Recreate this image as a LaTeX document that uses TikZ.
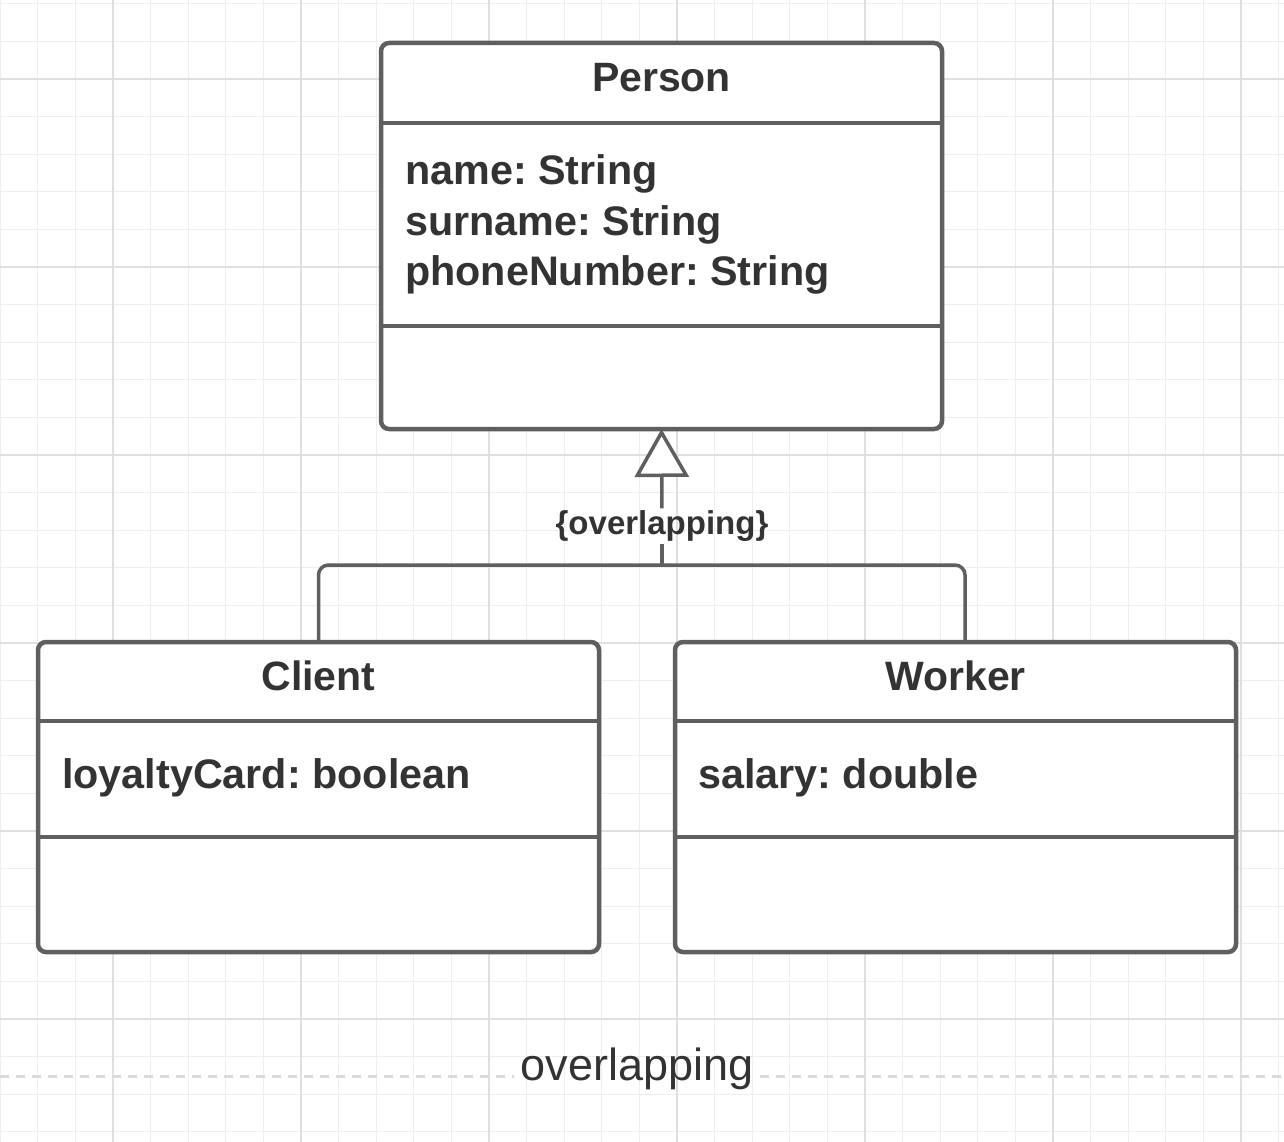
\documentclass[tikz,border=0pt]{standalone}
\usepackage{fontspec}
\setmainfont{Liberation Sans}
\usetikzlibrary{arrows.meta}
\definecolor{umlline}{HTML}{5F5F5F}
\definecolor{umltext}{HTML}{333333}
\definecolor{gridminor}{HTML}{EEEEEE}
\definecolor{gridmajor}{HTML}{E0E0E0}
\definecolor{dashgray}{HTML}{DADADA}
\frenchspacing

\begin{document}
\begin{tikzpicture}[x=1pt,y=-1pt,
  classbox/.style={draw=umlline,line width=4.5pt,rounded corners=8pt,fill=white,
    inner sep=0pt,outer sep=0pt,minimum width=561pt},
  divider/.style={draw=umlline,line width=4.5pt},
  headtext/.style={text=umltext,font=\fontsize{41}{50}\selectfont\bfseries,anchor=base,inner sep=0pt},
  attrtext/.style={text=umltext,font=\fontsize{41.3}{50}\selectfont\bfseries,anchor=base west,inner sep=0pt},
  labeltext/.style={text=umltext,font=\fontsize{33}{40}\selectfont\bfseries,inner sep=2pt},
  notetext/.style={text=umltext,font=\fontsize{45}{54}\selectfont,anchor=base,inner sep=6pt},
  genline/.style={draw=umlline,line width=3.5pt},
  dashline/.style={draw=dashgray,line width=3pt,dash pattern=on 9pt off 7pt}]
\useasboundingbox (0,0) rectangle (1284,1142);
\fill[white] (0,0) rectangle (1284,1142);

%%% Grid
\foreach \i in {0,...,34}{
\draw[gridminor,line width=1.1pt] ({0.2+37.6*\i},0) -- ({0.2+37.6*\i},1142);
}
\foreach \i in {0,...,30}{
\draw[gridminor,line width=1.1pt] (0,{3.8+37.6*\i}) -- (1284,{3.8+37.6*\i});
}
\foreach \i in {0,...,6}{
\draw[gridmajor,line width=1.3pt] ({113+188*\i},0) -- ({113+188*\i},1142);
}
\foreach \i in {0,...,5}{
\draw[gridmajor,line width=1.3pt] (0,{79+188*\i}) -- (1284,{79+188*\i});
}

%%% Classes
\node[classbox,minimum height=386pt] (person) at (661.5,236) {};
\node[classbox,minimum height=310pt] (client) at (318.5,797) {};
\node[classbox,minimum height=310pt] (worker) at (955.5,797) {};

%%% Compartment lines
\foreach \c/\y in {person/123, person/326, client/721, client/837, worker/721, worker/837}{
\draw[divider] (\c.west |- 0,\y) -- (\c.east |- 0,\y);
}

%%% Names
\node[headtext] (personname) at (661.5,92) {Person};
\node[headtext] (clientname) at (318.5,690) {Client};
\node[headtext] (workername) at (955.5,690) {Worker};

%%% Attributes
\foreach \n/\x/\y/\t in {pname/405/185/{name: String}, psurname/405/235/{surname: String},
pphone/405/285/{phoneNumber: String}, cloyalty/62/788/{loyaltyCard: boolean},
wsalary/698/788/{salary: double}}{
\node[attrtext] (\n) at (\x,\y) {\t};
}

%%% Generalization set
\coordinate (split) at (662,565);
\node[labeltext] (gset) at (662,526) {\{overlapping\}};
\draw[genline,rounded corners=10pt] (client.north) |- (split) -| ([xshift=9.5pt]worker.north);
\draw[genline] (split) -- (gset);
\draw[genline,-{Triangle[open,fill=white,length=48pt,width=54pt]}] (gset) -- (person.south);

%%% Note below
\node[notetext] (note) at (637,1080) {overlapping};
\coordinate (dl) at (0,1076);
\coordinate (dr) at (1284,1076);
\draw[dashline] (dl) -- (dl -| note.west);
\draw[dashline] (dr -| note.east) -- (dr);

\end{tikzpicture}
\end{document}
